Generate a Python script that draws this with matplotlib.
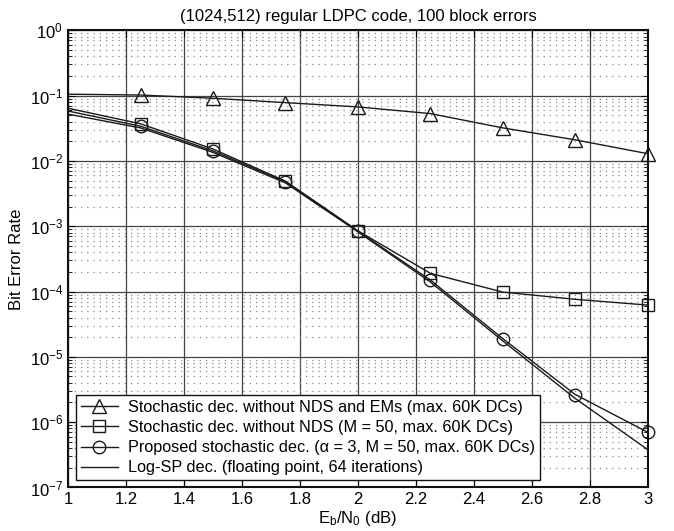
import matplotlib
matplotlib.use('Agg')
import matplotlib.pyplot as plt
from matplotlib.ticker import LogLocator, NullFormatter

plt.rcParams['font.family'] = ['Liberation Sans', 'DejaVu Sans']
plt.rcParams['mathtext.fontset'] = 'custom'
plt.rcParams['mathtext.rm'] = 'Liberation Sans'
plt.rcParams['mathtext.it'] = 'Liberation Sans'

# Eb/N0 (dB)
ebn0 = [1.0, 1.25, 1.5, 1.75, 2.0, 2.25, 2.5, 2.75, 3.0]

# BER curves
ber_no_nds_em = [0.105, 0.102, 0.091, 0.078, 0.067, 0.053, 0.032, 0.021, 0.0129]
ber_no_nds = [0.064, 0.037, 0.0152, 0.0049, 0.00085, 1.9e-4, 9.8e-5, 7.6e-5, 6.2e-5]
ber_proposed = [0.058, 0.034, 0.0142, 0.0048, 0.00084, 1.5e-4, 1.9e-5, 2.65e-6, 7.0e-7]
ber_logsp = [0.052, 0.032, 0.0135, 0.0046, 0.00082, 1.4e-4, 1.75e-5, 2.3e-6, 3.8e-7]

labels = [
    "Stochastic dec. without NDS and EMs (max. 60K DCs)",
    "Stochastic dec. without NDS (M = 50, max. 60K DCs)",
    "Proposed stochastic dec. (\u03b1 = 3, M = 50, max. 60K DCs)",
    "Log-SP dec. (floating point, 64 iterations)",
]

xticks = [1, 1.2, 1.4, 1.6, 1.8, 2, 2.2, 2.4, 2.6, 2.8, 3]
xticklabels = ["1", "1.2", "1.4", "1.6", "1.8", "2", "2.2", "2.4", "2.6", "2.8", "3"]

fig = plt.figure(figsize=(6.74, 5.31), dpi=100)
ax = fig.add_axes([0.101, 0.082, 0.860, 0.861])

col = '#1a1a1a'
mk = list(range(1, len(ebn0)))
ax.semilogy(ebn0, ber_no_nds_em, '-', color=col, lw=1.0, marker='^', ms=10,
            mfc='none', mec=col, mew=1.0, markevery=mk, clip_on=False, label=labels[0])
ax.semilogy(ebn0, ber_no_nds, '-', color=col, lw=1.0, marker='s', ms=8,
            mfc='none', mec=col, mew=1.0, markevery=mk, clip_on=False, label=labels[1])
ax.semilogy(ebn0, ber_proposed, '-', color=col, lw=1.0, marker='o', ms=9,
            mfc='none', mec=col, mew=1.0, markevery=mk, clip_on=False, label=labels[2])
ax.semilogy(ebn0, ber_logsp, '-', color=col, lw=1.0, label=labels[3])

ax.set_xlim(1, 3)
ax.set_ylim(1e-7, 1)
ax.set_xticks(xticks)
ax.set_xticklabels(xticklabels)
ax.yaxis.set_major_locator(LogLocator(base=10, numticks=10))
ax.yaxis.set_minor_locator(LogLocator(base=10, subs=range(2, 10), numticks=20))
ax.yaxis.set_minor_formatter(NullFormatter())

ax.grid(True, which='major', color='#444444', lw=0.9, ls='-')
ax.grid(True, which='minor', axis='y', color='#888888', lw=0.9, ls=(0, (1, 4)))
ax.set_axisbelow(True)

ax.tick_params(which='both', direction='in', top=True, right=True, labelsize=12)
ax.tick_params(which='major', length=5)
ax.tick_params(which='minor', length=3)
for s in ax.spines.values():
    s.set_linewidth(1.5)
    s.set_color('#111111')

ax.set_title("(1024,512) regular LDPC code, 100 block errors", fontsize=12, pad=7)
ax.set_xlabel("E$_b$/N$_0$ (dB)", fontsize=12, labelpad=1)
ax.set_ylabel("Bit Error Rate", fontsize=12, labelpad=4)

leg = ax.legend(loc='lower left', bbox_to_anchor=(0.005, 0.005), fontsize=11.7,
                frameon=True, fancybox=False, framealpha=1, edgecolor='#111111',
                handlelength=2.3, handletextpad=0.6, labelspacing=0.32,
                borderpad=0.3, borderaxespad=0.3)
leg.get_frame().set_linewidth(1.0)

fig.savefig('out.png', dpi=100)
